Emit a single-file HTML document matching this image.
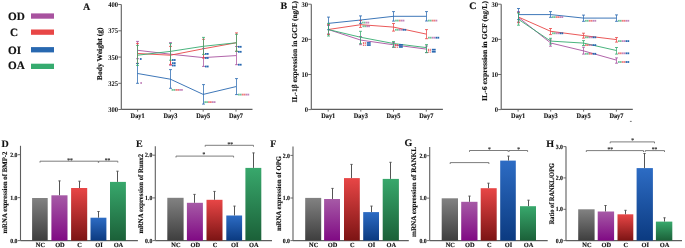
<!DOCTYPE html>
<html><head><meta charset="utf-8"><style>
html,body{margin:0;padding:0;background:#fff;}
body{width:685px;height:248px;overflow:hidden;}
svg{display:block;will-change:transform;}
text{font-family:"Liberation Serif",serif;font-weight:bold;stroke-width:0.15px;text-rendering:geometricPrecision;}
</style></head><body>
<svg width="685" height="248" viewBox="0 0 685 248">
<defs><linearGradient id="gNC" x1="0" y1="0" x2="0" y2="1"><stop offset="0" stop-color="#828282"/><stop offset="1" stop-color="#3e3e3e"/></linearGradient><linearGradient id="gOD" x1="0" y1="0" x2="0" y2="1"><stop offset="0" stop-color="#a65aa6"/><stop offset="1" stop-color="#800a84"/></linearGradient><linearGradient id="gC" x1="0" y1="0" x2="0" y2="1"><stop offset="0" stop-color="#e84646"/><stop offset="1" stop-color="#7c1414"/></linearGradient><linearGradient id="gOI" x1="0" y1="0" x2="0" y2="1"><stop offset="0" stop-color="#2d6cc4"/><stop offset="1" stop-color="#0b3a80"/></linearGradient><linearGradient id="gOA" x1="0" y1="0" x2="0" y2="1"><stop offset="0" stop-color="#38a86c"/><stop offset="1" stop-color="#1b6038"/></linearGradient></defs>
<text x="8" y="20" font-size="11.2" text-anchor="start" fill="#111" stroke="#111" >OD</text>
<rect x="31" y="13.4" width="23" height="5.3" fill="#a8529f" />
<text x="10" y="35.8" font-size="11.2" text-anchor="start" fill="#111" stroke="#111" >C</text>
<rect x="31" y="29.5" width="23" height="5.3" fill="#e84646" />
<text x="8" y="53.5" font-size="11.2" text-anchor="start" fill="#111" stroke="#111" >OI</text>
<rect x="31" y="47.1" width="23" height="5.3" fill="#2868b0" />
<text x="8" y="68.9" font-size="11.2" text-anchor="start" fill="#111" stroke="#111" >OA</text>
<rect x="31" y="63.7" width="23" height="5.3" fill="#36ab6f" />
<text x="83" y="10.3" font-size="10" text-anchor="start" fill="#111" stroke="#111" >A</text>
<line x1="121.3" y1="4.5" x2="121.3" y2="109.4" stroke="#5e5e5e" stroke-width="1.1" />
<line x1="121.3" y1="109.4" x2="252.5" y2="109.4" stroke="#5e5e5e" stroke-width="1.1" />
<line x1="118.3" y1="4.5" x2="121.3" y2="4.5" stroke="#5e5e5e" stroke-width="0.9" />
<text x="118.1" y="6.9" font-size="7.2" text-anchor="end" fill="#111" stroke="#111" textLength="9.90" lengthAdjust="spacingAndGlyphs" style="stroke-width:0">400</text>
<line x1="118.3" y1="30.8" x2="121.3" y2="30.8" stroke="#5e5e5e" stroke-width="0.9" />
<text x="118.1" y="33.2" font-size="7.2" text-anchor="end" fill="#111" stroke="#111" textLength="9.90" lengthAdjust="spacingAndGlyphs" style="stroke-width:0">375</text>
<line x1="118.3" y1="57.1" x2="121.3" y2="57.1" stroke="#5e5e5e" stroke-width="0.9" />
<text x="118.1" y="59.5" font-size="7.2" text-anchor="end" fill="#111" stroke="#111" textLength="9.90" lengthAdjust="spacingAndGlyphs" style="stroke-width:0">350</text>
<line x1="118.3" y1="83.3" x2="121.3" y2="83.3" stroke="#5e5e5e" stroke-width="0.9" />
<text x="118.1" y="85.7" font-size="7.2" text-anchor="end" fill="#111" stroke="#111" textLength="9.90" lengthAdjust="spacingAndGlyphs" style="stroke-width:0">325</text>
<line x1="118.3" y1="109.5" x2="121.3" y2="109.5" stroke="#5e5e5e" stroke-width="0.9" />
<text x="118.1" y="111.9" font-size="7.2" text-anchor="end" fill="#111" stroke="#111" textLength="9.90" lengthAdjust="spacingAndGlyphs" style="stroke-width:0">300</text>
<line x1="137.6" y1="109.4" x2="137.6" y2="111.6" stroke="#5e5e5e" stroke-width="0.9" />
<text x="137.6" y="118.0" font-size="7.0" text-anchor="middle" fill="#111" stroke="#111" textLength="14.00" lengthAdjust="spacingAndGlyphs" >Day1</text>
<line x1="170.4" y1="109.4" x2="170.4" y2="111.6" stroke="#5e5e5e" stroke-width="0.9" />
<text x="170.4" y="118.0" font-size="7.0" text-anchor="middle" fill="#111" stroke="#111" textLength="14.00" lengthAdjust="spacingAndGlyphs" >Day3</text>
<line x1="203.2" y1="109.4" x2="203.2" y2="111.6" stroke="#5e5e5e" stroke-width="0.9" />
<text x="203.2" y="118.0" font-size="7.0" text-anchor="middle" fill="#111" stroke="#111" textLength="14.00" lengthAdjust="spacingAndGlyphs" >Day5</text>
<line x1="236.0" y1="109.4" x2="236.0" y2="111.6" stroke="#5e5e5e" stroke-width="0.9" />
<text x="236.0" y="118.0" font-size="7.0" text-anchor="middle" fill="#111" stroke="#111" textLength="14.00" lengthAdjust="spacingAndGlyphs" >Day7</text>
<text transform="translate(102.04,53.80) rotate(-90)" x="0" y="0" font-size="7.4" text-anchor="middle" textLength="52.8" lengthAdjust="spacingAndGlyphs" fill="#111" stroke="#111">Body Weight (g)</text>
<polyline points="137.6,50.3 170.4,54.2 203.2,57.6 236.0,55.6" fill="none" stroke="#a8529f" stroke-width="0.9" stroke-linejoin="round"/>
<polyline points="137.6,53.5 170.4,55.2 203.2,48.8 236.0,42.8" fill="none" stroke="#e84646" stroke-width="0.9" stroke-linejoin="round"/>
<polyline points="137.6,55.2 170.4,51.4 203.2,46.3 236.0,42.8" fill="none" stroke="#36ab6f" stroke-width="0.9" stroke-linejoin="round"/>
<polyline points="137.6,73.5 170.4,79.2 203.2,94.4 236.0,86.6" fill="none" stroke="#2868b0" stroke-width="0.9" stroke-linejoin="round"/>
<line x1="137.5" y1="41.4" x2="137.5" y2="58.7" stroke="#a8529f" stroke-width="0.75" />
<line x1="136.0" y1="41.4" x2="139.0" y2="41.4" stroke="#a8529f" stroke-width="0.8" />
<line x1="136.0" y1="58.7" x2="139.0" y2="58.7" stroke="#a8529f" stroke-width="0.8" />
<line x1="170.5" y1="42.6" x2="170.5" y2="65.2" stroke="#a8529f" stroke-width="0.75" />
<line x1="169.0" y1="42.6" x2="172.0" y2="42.6" stroke="#a8529f" stroke-width="0.8" />
<line x1="169.0" y1="65.2" x2="172.0" y2="65.2" stroke="#a8529f" stroke-width="0.8" />
<line x1="203.5" y1="48.4" x2="203.5" y2="66.4" stroke="#a8529f" stroke-width="0.75" />
<line x1="202.0" y1="48.4" x2="205.0" y2="48.4" stroke="#a8529f" stroke-width="0.8" />
<line x1="202.0" y1="66.4" x2="205.0" y2="66.4" stroke="#a8529f" stroke-width="0.8" />
<line x1="236.5" y1="46.5" x2="236.5" y2="64.7" stroke="#a8529f" stroke-width="0.75" />
<line x1="235.0" y1="46.5" x2="238.0" y2="46.5" stroke="#a8529f" stroke-width="0.8" />
<line x1="235.0" y1="64.7" x2="238.0" y2="64.7" stroke="#a8529f" stroke-width="0.8" />
<line x1="137.5" y1="43.4" x2="137.5" y2="63.3" stroke="#e84646" stroke-width="0.75" />
<line x1="136.0" y1="43.4" x2="139.0" y2="43.4" stroke="#e84646" stroke-width="0.8" />
<line x1="136.0" y1="63.3" x2="139.0" y2="63.3" stroke="#e84646" stroke-width="0.8" />
<line x1="170.5" y1="46.4" x2="170.5" y2="64.4" stroke="#e84646" stroke-width="0.75" />
<line x1="169.0" y1="46.4" x2="172.0" y2="46.4" stroke="#e84646" stroke-width="0.8" />
<line x1="169.0" y1="64.4" x2="172.0" y2="64.4" stroke="#e84646" stroke-width="0.8" />
<line x1="203.5" y1="39.3" x2="203.5" y2="58.1" stroke="#e84646" stroke-width="0.75" />
<line x1="202.0" y1="39.3" x2="205.0" y2="39.3" stroke="#e84646" stroke-width="0.8" />
<line x1="202.0" y1="58.1" x2="205.0" y2="58.1" stroke="#e84646" stroke-width="0.8" />
<line x1="236.5" y1="32.9" x2="236.5" y2="51.3" stroke="#e84646" stroke-width="0.75" />
<line x1="235.0" y1="32.9" x2="238.0" y2="32.9" stroke="#e84646" stroke-width="0.8" />
<line x1="235.0" y1="51.3" x2="238.0" y2="51.3" stroke="#e84646" stroke-width="0.8" />
<line x1="137.5" y1="63.5" x2="137.5" y2="83.3" stroke="#2868b0" stroke-width="0.75" />
<line x1="136.0" y1="63.5" x2="139.0" y2="63.5" stroke="#2868b0" stroke-width="0.8" />
<line x1="136.0" y1="83.3" x2="139.0" y2="83.3" stroke="#2868b0" stroke-width="0.8" />
<line x1="170.5" y1="69.6" x2="170.5" y2="88.3" stroke="#2868b0" stroke-width="0.75" />
<line x1="169.0" y1="69.6" x2="172.0" y2="69.6" stroke="#2868b0" stroke-width="0.8" />
<line x1="169.0" y1="88.3" x2="172.0" y2="88.3" stroke="#2868b0" stroke-width="0.8" />
<line x1="203.5" y1="84.6" x2="203.5" y2="104.1" stroke="#2868b0" stroke-width="0.75" />
<line x1="202.0" y1="84.6" x2="205.0" y2="84.6" stroke="#2868b0" stroke-width="0.8" />
<line x1="202.0" y1="104.1" x2="205.0" y2="104.1" stroke="#2868b0" stroke-width="0.8" />
<line x1="236.5" y1="78.6" x2="236.5" y2="94.6" stroke="#2868b0" stroke-width="0.75" />
<line x1="235.0" y1="78.6" x2="238.0" y2="78.6" stroke="#2868b0" stroke-width="0.8" />
<line x1="235.0" y1="94.6" x2="238.0" y2="94.6" stroke="#2868b0" stroke-width="0.8" />
<line x1="137.5" y1="45.4" x2="137.5" y2="65.4" stroke="#36ab6f" stroke-width="0.75" />
<line x1="136.0" y1="45.4" x2="139.0" y2="45.4" stroke="#36ab6f" stroke-width="0.8" />
<line x1="136.0" y1="65.4" x2="139.0" y2="65.4" stroke="#36ab6f" stroke-width="0.8" />
<line x1="170.5" y1="43.6" x2="170.5" y2="60.2" stroke="#36ab6f" stroke-width="0.75" />
<line x1="169.0" y1="43.6" x2="172.0" y2="43.6" stroke="#36ab6f" stroke-width="0.8" />
<line x1="169.0" y1="60.2" x2="172.0" y2="60.2" stroke="#36ab6f" stroke-width="0.8" />
<line x1="203.5" y1="37.4" x2="203.5" y2="54.4" stroke="#36ab6f" stroke-width="0.75" />
<line x1="202.0" y1="37.4" x2="205.0" y2="37.4" stroke="#36ab6f" stroke-width="0.8" />
<line x1="202.0" y1="54.4" x2="205.0" y2="54.4" stroke="#36ab6f" stroke-width="0.8" />
<line x1="236.5" y1="34.3" x2="236.5" y2="51.3" stroke="#36ab6f" stroke-width="0.75" />
<line x1="235.0" y1="34.3" x2="238.0" y2="34.3" stroke="#36ab6f" stroke-width="0.8" />
<line x1="235.0" y1="51.3" x2="238.0" y2="51.3" stroke="#36ab6f" stroke-width="0.8" />
<rect x="139.9" y="58.1" width="1.7" height="1.8" fill="#2868b0" opacity="1"/>
<rect x="140.3" y="82.1" width="1.7" height="1.8" fill="#a8529f" opacity="0.7"/>
<rect x="172" y="59.1" width="1.7" height="1.8" fill="#2868b0" opacity="1"/>
<rect x="173.9" y="59.1" width="1.7" height="1.8" fill="#2868b0" opacity="1"/>
<rect x="172" y="62.2" width="1.7" height="1.8" fill="#2868b0" opacity="1"/>
<rect x="173.9" y="62.2" width="1.7" height="1.8" fill="#2868b0" opacity="1"/>
<rect x="172" y="64.6" width="1.7" height="1.8" fill="#2868b0" opacity="1"/>
<rect x="173.9" y="64.6" width="1.7" height="1.8" fill="#2868b0" opacity="1"/>
<rect x="171.6" y="89.0" width="1.7" height="1.8" fill="#36ab6f" opacity="0.7"/>
<rect x="173.5" y="89.0" width="1.7" height="1.8" fill="#36ab6f" opacity="0.7"/>
<rect x="175.4" y="89.0" width="1.7" height="1.8" fill="#e84646" opacity="0.7"/>
<rect x="177.3" y="89.0" width="1.7" height="1.8" fill="#e84646" opacity="0.7"/>
<rect x="179.20000000000002" y="89.0" width="1.7" height="1.8" fill="#a8529f" opacity="0.7"/>
<rect x="181.10000000000002" y="89.0" width="1.7" height="1.8" fill="#a8529f" opacity="0.7"/>
<rect x="205" y="53.0" width="1.7" height="1.8" fill="#2868b0" opacity="1"/>
<rect x="206.9" y="53.0" width="1.7" height="1.8" fill="#2868b0" opacity="1"/>
<rect x="205" y="57.1" width="1.7" height="1.8" fill="#2868b0" opacity="1"/>
<rect x="206.9" y="57.1" width="1.7" height="1.8" fill="#2868b0" opacity="1"/>
<rect x="205" y="65.6" width="1.7" height="1.8" fill="#2868b0" opacity="1"/>
<rect x="206.9" y="65.6" width="1.7" height="1.8" fill="#2868b0" opacity="1"/>
<rect x="204.3" y="101.19999999999999" width="1.7" height="1.8" fill="#36ab6f" opacity="0.7"/>
<rect x="206.20000000000002" y="101.19999999999999" width="1.7" height="1.8" fill="#36ab6f" opacity="0.7"/>
<rect x="208.10000000000002" y="101.19999999999999" width="1.7" height="1.8" fill="#e84646" opacity="0.7"/>
<rect x="210.00000000000003" y="101.19999999999999" width="1.7" height="1.8" fill="#e84646" opacity="0.7"/>
<rect x="211.90000000000003" y="101.19999999999999" width="1.7" height="1.8" fill="#a8529f" opacity="0.7"/>
<rect x="213.80000000000004" y="101.19999999999999" width="1.7" height="1.8" fill="#a8529f" opacity="0.7"/>
<rect x="238" y="45.9" width="1.7" height="1.8" fill="#2868b0" opacity="1"/>
<rect x="239.9" y="45.9" width="1.7" height="1.8" fill="#2868b0" opacity="1"/>
<rect x="238" y="50.9" width="1.7" height="1.8" fill="#2868b0" opacity="1"/>
<rect x="239.9" y="50.9" width="1.7" height="1.8" fill="#2868b0" opacity="1"/>
<rect x="238" y="63.800000000000004" width="1.7" height="1.8" fill="#2868b0" opacity="1"/>
<rect x="239.9" y="63.800000000000004" width="1.7" height="1.8" fill="#2868b0" opacity="1"/>
<rect x="238" y="93.69999999999999" width="1.7" height="1.8" fill="#36ab6f" opacity="0.7"/>
<rect x="239.9" y="93.69999999999999" width="1.7" height="1.8" fill="#36ab6f" opacity="0.7"/>
<rect x="241.8" y="93.69999999999999" width="1.7" height="1.8" fill="#e84646" opacity="0.7"/>
<rect x="243.70000000000002" y="93.69999999999999" width="1.7" height="1.8" fill="#e84646" opacity="0.7"/>
<rect x="245.60000000000002" y="93.69999999999999" width="1.7" height="1.8" fill="#a8529f" opacity="0.7"/>
<rect x="247.50000000000003" y="93.69999999999999" width="1.7" height="1.8" fill="#a8529f" opacity="0.7"/>
<text x="280.5" y="8.6" font-size="10" text-anchor="start" fill="#111" stroke="#111" >B</text>
<line x1="311.3" y1="4.2" x2="311.3" y2="109.4" stroke="#5e5e5e" stroke-width="1.1" />
<line x1="311.3" y1="109.4" x2="442.9" y2="109.4" stroke="#5e5e5e" stroke-width="1.1" />
<line x1="308.3" y1="4.2" x2="311.3" y2="4.2" stroke="#5e5e5e" stroke-width="0.9" />
<text x="308.1" y="6.6" font-size="7.2" text-anchor="end" fill="#111" stroke="#111" textLength="6.60" lengthAdjust="spacingAndGlyphs" style="stroke-width:0">30</text>
<line x1="308.3" y1="39.4" x2="311.3" y2="39.4" stroke="#5e5e5e" stroke-width="0.9" />
<text x="308.1" y="41.8" font-size="7.2" text-anchor="end" fill="#111" stroke="#111" textLength="6.60" lengthAdjust="spacingAndGlyphs" style="stroke-width:0">20</text>
<line x1="308.3" y1="74.5" x2="311.3" y2="74.5" stroke="#5e5e5e" stroke-width="0.9" />
<text x="308.1" y="76.9" font-size="7.2" text-anchor="end" fill="#111" stroke="#111" textLength="6.60" lengthAdjust="spacingAndGlyphs" style="stroke-width:0">10</text>
<line x1="308.3" y1="109.6" x2="311.3" y2="109.6" stroke="#5e5e5e" stroke-width="0.9" />
<text x="308.1" y="112.0" font-size="7.2" text-anchor="end" fill="#111" stroke="#111" textLength="3.30" lengthAdjust="spacingAndGlyphs" style="stroke-width:0">0</text>
<line x1="328.2" y1="109.4" x2="328.2" y2="111.6" stroke="#5e5e5e" stroke-width="0.9" />
<text x="328.2" y="118.0" font-size="7.0" text-anchor="middle" fill="#111" stroke="#111" textLength="14.00" lengthAdjust="spacingAndGlyphs" >Day1</text>
<line x1="360.8" y1="109.4" x2="360.8" y2="111.6" stroke="#5e5e5e" stroke-width="0.9" />
<text x="360.8" y="118.0" font-size="7.0" text-anchor="middle" fill="#111" stroke="#111" textLength="14.00" lengthAdjust="spacingAndGlyphs" >Day3</text>
<line x1="393.5" y1="109.4" x2="393.5" y2="111.6" stroke="#5e5e5e" stroke-width="0.9" />
<text x="393.5" y="118.0" font-size="7.0" text-anchor="middle" fill="#111" stroke="#111" textLength="14.00" lengthAdjust="spacingAndGlyphs" >Day5</text>
<line x1="426.3" y1="109.4" x2="426.3" y2="111.6" stroke="#5e5e5e" stroke-width="0.9" />
<text x="426.3" y="118.0" font-size="7.0" text-anchor="middle" fill="#111" stroke="#111" textLength="14.00" lengthAdjust="spacingAndGlyphs" >Day7</text>
<text transform="translate(297.44,51.80) rotate(-90)" x="0" y="0" font-size="7.4" text-anchor="middle" textLength="101.6" lengthAdjust="spacingAndGlyphs" fill="#111" stroke="#111">IL-1β expression in GCF (ng/L)</text>
<polyline points="328.2,29.5 360.8,40.1 393.5,44.8 426.3,49.1" fill="none" stroke="#a8529f" stroke-width="0.9" stroke-linejoin="round"/>
<polyline points="328.2,29.5 360.8,24.7 393.5,27.1 426.3,34.1" fill="none" stroke="#e84646" stroke-width="0.9" stroke-linejoin="round"/>
<polyline points="328.2,29.5 360.8,37.3 393.5,43.5 426.3,47.6" fill="none" stroke="#36ab6f" stroke-width="0.9" stroke-linejoin="round"/>
<polyline points="328.2,23.4 360.8,20.0 393.5,16.3 426.3,16.3" fill="none" stroke="#2868b0" stroke-width="0.9" stroke-linejoin="round"/>
<line x1="328.5" y1="25.5" x2="328.5" y2="33.9" stroke="#a8529f" stroke-width="0.75" />
<line x1="327.0" y1="25.5" x2="330.0" y2="25.5" stroke="#a8529f" stroke-width="0.8" />
<line x1="327.0" y1="33.9" x2="330.0" y2="33.9" stroke="#a8529f" stroke-width="0.8" />
<line x1="360.5" y1="36.5" x2="360.5" y2="44.7" stroke="#a8529f" stroke-width="0.75" />
<line x1="359.0" y1="36.5" x2="362.0" y2="36.5" stroke="#a8529f" stroke-width="0.8" />
<line x1="359.0" y1="44.7" x2="362.0" y2="44.7" stroke="#a8529f" stroke-width="0.8" />
<line x1="393.5" y1="42.5" x2="393.5" y2="47.3" stroke="#a8529f" stroke-width="0.75" />
<line x1="392.0" y1="42.5" x2="395.0" y2="42.5" stroke="#a8529f" stroke-width="0.8" />
<line x1="392.0" y1="47.3" x2="395.0" y2="47.3" stroke="#a8529f" stroke-width="0.8" />
<line x1="426.5" y1="46" x2="426.5" y2="52.6" stroke="#a8529f" stroke-width="0.75" />
<line x1="425.0" y1="46" x2="428.0" y2="46" stroke="#a8529f" stroke-width="0.8" />
<line x1="425.0" y1="52.6" x2="428.0" y2="52.6" stroke="#a8529f" stroke-width="0.8" />
<line x1="328.5" y1="24.5" x2="328.5" y2="34.5" stroke="#e84646" stroke-width="0.75" />
<line x1="327.0" y1="24.5" x2="330.0" y2="24.5" stroke="#e84646" stroke-width="0.8" />
<line x1="327.0" y1="34.5" x2="330.0" y2="34.5" stroke="#e84646" stroke-width="0.8" />
<line x1="360.5" y1="20.5" x2="360.5" y2="27.4" stroke="#e84646" stroke-width="0.75" />
<line x1="359.0" y1="20.5" x2="362.0" y2="20.5" stroke="#e84646" stroke-width="0.8" />
<line x1="359.0" y1="27.4" x2="362.0" y2="27.4" stroke="#e84646" stroke-width="0.8" />
<line x1="393.5" y1="23.5" x2="393.5" y2="31.1" stroke="#e84646" stroke-width="0.75" />
<line x1="392.0" y1="23.5" x2="395.0" y2="23.5" stroke="#e84646" stroke-width="0.8" />
<line x1="392.0" y1="31.1" x2="395.0" y2="31.1" stroke="#e84646" stroke-width="0.8" />
<line x1="426.5" y1="29.6" x2="426.5" y2="38.7" stroke="#e84646" stroke-width="0.75" />
<line x1="425.0" y1="29.6" x2="428.0" y2="29.6" stroke="#e84646" stroke-width="0.8" />
<line x1="425.0" y1="38.7" x2="428.0" y2="38.7" stroke="#e84646" stroke-width="0.8" />
<line x1="328.5" y1="17.1" x2="328.5" y2="29.7" stroke="#2868b0" stroke-width="0.75" />
<line x1="327.0" y1="17.1" x2="330.0" y2="17.1" stroke="#2868b0" stroke-width="0.8" />
<line x1="327.0" y1="29.7" x2="330.0" y2="29.7" stroke="#2868b0" stroke-width="0.8" />
<line x1="360.5" y1="15.9" x2="360.5" y2="23.4" stroke="#2868b0" stroke-width="0.75" />
<line x1="359.0" y1="15.9" x2="362.0" y2="15.9" stroke="#2868b0" stroke-width="0.8" />
<line x1="359.0" y1="23.4" x2="362.0" y2="23.4" stroke="#2868b0" stroke-width="0.8" />
<line x1="393.5" y1="11.6" x2="393.5" y2="21.1" stroke="#2868b0" stroke-width="0.75" />
<line x1="392.0" y1="11.6" x2="395.0" y2="11.6" stroke="#2868b0" stroke-width="0.8" />
<line x1="392.0" y1="21.1" x2="395.0" y2="21.1" stroke="#2868b0" stroke-width="0.8" />
<line x1="426.5" y1="11.6" x2="426.5" y2="21.0" stroke="#2868b0" stroke-width="0.75" />
<line x1="425.0" y1="11.6" x2="428.0" y2="11.6" stroke="#2868b0" stroke-width="0.8" />
<line x1="425.0" y1="21.0" x2="428.0" y2="21.0" stroke="#2868b0" stroke-width="0.8" />
<line x1="328.5" y1="23.4" x2="328.5" y2="36.0" stroke="#36ab6f" stroke-width="0.75" />
<line x1="327.0" y1="23.4" x2="330.0" y2="23.4" stroke="#36ab6f" stroke-width="0.8" />
<line x1="327.0" y1="36.0" x2="330.0" y2="36.0" stroke="#36ab6f" stroke-width="0.8" />
<line x1="360.5" y1="31.3" x2="360.5" y2="43.7" stroke="#36ab6f" stroke-width="0.75" />
<line x1="359.0" y1="31.3" x2="362.0" y2="31.3" stroke="#36ab6f" stroke-width="0.8" />
<line x1="359.0" y1="43.7" x2="362.0" y2="43.7" stroke="#36ab6f" stroke-width="0.8" />
<line x1="393.5" y1="41.5" x2="393.5" y2="47.1" stroke="#36ab6f" stroke-width="0.75" />
<line x1="392.0" y1="41.5" x2="395.0" y2="41.5" stroke="#36ab6f" stroke-width="0.8" />
<line x1="392.0" y1="47.1" x2="395.0" y2="47.1" stroke="#36ab6f" stroke-width="0.8" />
<line x1="426.5" y1="44.6" x2="426.5" y2="52.6" stroke="#36ab6f" stroke-width="0.75" />
<line x1="425.0" y1="44.6" x2="428.0" y2="44.6" stroke="#36ab6f" stroke-width="0.8" />
<line x1="425.0" y1="52.6" x2="428.0" y2="52.6" stroke="#36ab6f" stroke-width="0.8" />
<rect x="361.8" y="21.700000000000003" width="1.7" height="1.8" fill="#36ab6f" opacity="0.7"/>
<rect x="363.7" y="21.700000000000003" width="1.7" height="1.8" fill="#36ab6f" opacity="0.7"/>
<rect x="365.59999999999997" y="21.700000000000003" width="1.7" height="1.8" fill="#a8529f" opacity="0.7"/>
<rect x="367.49999999999994" y="21.700000000000003" width="1.7" height="1.8" fill="#a8529f" opacity="0.7"/>
<rect x="362.5" y="25.400000000000002" width="1.7" height="1.8" fill="#36ab6f" opacity="0.7"/>
<rect x="364.4" y="25.400000000000002" width="1.7" height="1.8" fill="#36ab6f" opacity="0.7"/>
<rect x="366.29999999999995" y="25.400000000000002" width="1.7" height="1.8" fill="#a8529f" opacity="0.7"/>
<rect x="368.19999999999993" y="25.400000000000002" width="1.7" height="1.8" fill="#a8529f" opacity="0.7"/>
<rect x="362.9" y="42.1" width="1.1" height="2.2" fill="#e84646" opacity="0.8"/>
<rect x="362.9" y="44.8" width="1.1" height="1.2" fill="#e84646" opacity="0.8"/>
<rect x="364.7" y="42.1" width="1.1" height="2.2" fill="#e84646" opacity="0.8"/>
<rect x="364.7" y="44.8" width="1.1" height="1.2" fill="#e84646" opacity="0.8"/>
<rect x="366.79999999999995" y="42.1" width="3.9" height="1.7" fill="#2868b0" />
<rect x="366.79999999999995" y="44.2" width="3.9" height="1.7" fill="#2868b0" />
<rect x="395.1" y="19.700000000000003" width="1.7" height="1.8" fill="#36ab6f" opacity="0.7"/>
<rect x="397.0" y="19.700000000000003" width="1.7" height="1.8" fill="#36ab6f" opacity="0.7"/>
<rect x="398.9" y="19.700000000000003" width="1.7" height="1.8" fill="#e84646" opacity="0.7"/>
<rect x="400.79999999999995" y="19.700000000000003" width="1.7" height="1.8" fill="#a8529f" opacity="0.7"/>
<rect x="402.69999999999993" y="19.700000000000003" width="1.7" height="1.8" fill="#a8529f" opacity="0.7"/>
<rect x="395" y="28.900000000000002" width="1.7" height="1.8" fill="#36ab6f" opacity="0.7"/>
<rect x="396.9" y="28.900000000000002" width="1.7" height="1.8" fill="#36ab6f" opacity="0.7"/>
<rect x="398.79999999999995" y="28.900000000000002" width="1.7" height="1.8" fill="#a8529f" opacity="0.7"/>
<rect x="400.69999999999993" y="28.900000000000002" width="1.7" height="1.8" fill="#a8529f" opacity="0.7"/>
<rect x="402.5999999999999" y="28.900000000000002" width="1.7" height="1.8" fill="#2868b0" opacity="1"/>
<rect x="404.4999999999999" y="28.900000000000002" width="1.7" height="1.8" fill="#2868b0" opacity="1"/>
<rect x="395" y="44.0" width="1.1" height="2.2" fill="#e84646" opacity="0.8"/>
<rect x="395" y="46.699999999999996" width="1.1" height="1.2" fill="#e84646" opacity="0.8"/>
<rect x="396.8" y="44.0" width="1.1" height="2.2" fill="#e84646" opacity="0.8"/>
<rect x="396.8" y="46.699999999999996" width="1.1" height="1.2" fill="#e84646" opacity="0.8"/>
<rect x="398.9" y="44.0" width="3.9" height="1.7" fill="#2868b0" />
<rect x="398.9" y="46.1" width="3.9" height="1.7" fill="#2868b0" />
<rect x="428" y="19.700000000000003" width="1.7" height="1.8" fill="#36ab6f" opacity="0.7"/>
<rect x="429.9" y="19.700000000000003" width="1.7" height="1.8" fill="#36ab6f" opacity="0.7"/>
<rect x="431.79999999999995" y="19.700000000000003" width="1.7" height="1.8" fill="#e84646" opacity="0.7"/>
<rect x="433.69999999999993" y="19.700000000000003" width="1.7" height="1.8" fill="#e84646" opacity="0.7"/>
<rect x="435.5999999999999" y="19.700000000000003" width="1.7" height="1.8" fill="#a8529f" opacity="0.7"/>
<rect x="428" y="36.800000000000004" width="1.7" height="1.8" fill="#36ab6f" opacity="0.7"/>
<rect x="429.9" y="36.800000000000004" width="1.7" height="1.8" fill="#36ab6f" opacity="0.7"/>
<rect x="431.79999999999995" y="36.800000000000004" width="1.7" height="1.8" fill="#a8529f" opacity="0.7"/>
<rect x="433.69999999999993" y="36.800000000000004" width="1.7" height="1.8" fill="#a8529f" opacity="0.7"/>
<rect x="435.5999999999999" y="36.800000000000004" width="1.7" height="1.8" fill="#2868b0" opacity="1"/>
<rect x="437.4999999999999" y="36.800000000000004" width="1.7" height="1.8" fill="#2868b0" opacity="1"/>
<rect x="427.9" y="48.800000000000004" width="1.1" height="2.2" fill="#e84646" opacity="0.8"/>
<rect x="427.9" y="51.5" width="1.1" height="1.2" fill="#e84646" opacity="0.8"/>
<rect x="429.7" y="48.800000000000004" width="1.1" height="2.2" fill="#e84646" opacity="0.8"/>
<rect x="429.7" y="51.5" width="1.1" height="1.2" fill="#e84646" opacity="0.8"/>
<rect x="431.79999999999995" y="48.800000000000004" width="3.9" height="1.7" fill="#2868b0" />
<rect x="431.79999999999995" y="50.900000000000006" width="3.9" height="1.7" fill="#2868b0" />
<text x="469.3" y="9.1" font-size="10" text-anchor="start" fill="#111" stroke="#111" >C</text>
<line x1="501.2" y1="4.2" x2="501.2" y2="109.4" stroke="#5e5e5e" stroke-width="1.1" />
<line x1="501.2" y1="109.4" x2="632.8" y2="109.4" stroke="#5e5e5e" stroke-width="1.1" />
<line x1="498.2" y1="4.2" x2="501.2" y2="4.2" stroke="#5e5e5e" stroke-width="0.9" />
<text x="498.0" y="6.6" font-size="7.2" text-anchor="end" fill="#111" stroke="#111" textLength="6.60" lengthAdjust="spacingAndGlyphs" style="stroke-width:0">30</text>
<line x1="498.2" y1="39.4" x2="501.2" y2="39.4" stroke="#5e5e5e" stroke-width="0.9" />
<text x="498.0" y="41.8" font-size="7.2" text-anchor="end" fill="#111" stroke="#111" textLength="6.60" lengthAdjust="spacingAndGlyphs" style="stroke-width:0">20</text>
<line x1="498.2" y1="74.5" x2="501.2" y2="74.5" stroke="#5e5e5e" stroke-width="0.9" />
<text x="498.0" y="76.9" font-size="7.2" text-anchor="end" fill="#111" stroke="#111" textLength="6.60" lengthAdjust="spacingAndGlyphs" style="stroke-width:0">10</text>
<line x1="498.2" y1="109.6" x2="501.2" y2="109.6" stroke="#5e5e5e" stroke-width="0.9" />
<text x="498.0" y="112.0" font-size="7.2" text-anchor="end" fill="#111" stroke="#111" textLength="3.30" lengthAdjust="spacingAndGlyphs" style="stroke-width:0">0</text>
<line x1="518.1" y1="109.4" x2="518.1" y2="111.6" stroke="#5e5e5e" stroke-width="0.9" />
<text x="518.1" y="118.0" font-size="7.0" text-anchor="middle" fill="#111" stroke="#111" textLength="14.00" lengthAdjust="spacingAndGlyphs" >Day1</text>
<line x1="550.7" y1="109.4" x2="550.7" y2="111.6" stroke="#5e5e5e" stroke-width="0.9" />
<text x="550.7" y="118.0" font-size="7.0" text-anchor="middle" fill="#111" stroke="#111" textLength="14.00" lengthAdjust="spacingAndGlyphs" >Day3</text>
<line x1="583.6" y1="109.4" x2="583.6" y2="111.6" stroke="#5e5e5e" stroke-width="0.9" />
<text x="583.6" y="118.0" font-size="7.0" text-anchor="middle" fill="#111" stroke="#111" textLength="14.00" lengthAdjust="spacingAndGlyphs" >Day5</text>
<line x1="616.4" y1="109.4" x2="616.4" y2="111.6" stroke="#5e5e5e" stroke-width="0.9" />
<text x="616.4" y="118.0" font-size="7.0" text-anchor="middle" fill="#111" stroke="#111" textLength="14.00" lengthAdjust="spacingAndGlyphs" >Day7</text>
<text transform="translate(487.44,50.95) rotate(-90)" x="0" y="0" font-size="7.4" text-anchor="middle" textLength="99.9" lengthAdjust="spacingAndGlyphs" fill="#111" stroke="#111">IL-6 expression in GCF (ng/L)</text>
<polyline points="518.1,17.1 550.7,43.0 583.6,50.9 616.4,60.1" fill="none" stroke="#a8529f" stroke-width="0.9" stroke-linejoin="round"/>
<polyline points="518.1,16.9 550.7,31.3 583.6,35.6 616.4,39.6" fill="none" stroke="#e84646" stroke-width="0.9" stroke-linejoin="round"/>
<polyline points="518.1,19.1 550.7,41.1 583.6,43.1 616.4,50.5" fill="none" stroke="#36ab6f" stroke-width="0.9" stroke-linejoin="round"/>
<polyline points="518.1,14.6 550.7,14.6 583.6,18.1 616.4,18.1" fill="none" stroke="#2868b0" stroke-width="0.9" stroke-linejoin="round"/>
<line x1="518.5" y1="11.6" x2="518.5" y2="22" stroke="#a8529f" stroke-width="0.75" />
<line x1="517.0" y1="11.6" x2="520.0" y2="11.6" stroke="#a8529f" stroke-width="0.8" />
<line x1="517.0" y1="22" x2="520.0" y2="22" stroke="#a8529f" stroke-width="0.8" />
<line x1="550.5" y1="40" x2="550.5" y2="46.2" stroke="#a8529f" stroke-width="0.75" />
<line x1="549.0" y1="40" x2="552.0" y2="40" stroke="#a8529f" stroke-width="0.8" />
<line x1="549.0" y1="46.2" x2="552.0" y2="46.2" stroke="#a8529f" stroke-width="0.8" />
<line x1="583.5" y1="47.2" x2="583.5" y2="54.1" stroke="#a8529f" stroke-width="0.75" />
<line x1="582.0" y1="47.2" x2="585.0" y2="47.2" stroke="#a8529f" stroke-width="0.8" />
<line x1="582.0" y1="54.1" x2="585.0" y2="54.1" stroke="#a8529f" stroke-width="0.8" />
<line x1="616.5" y1="57.9" x2="616.5" y2="63.2" stroke="#a8529f" stroke-width="0.75" />
<line x1="615.0" y1="57.9" x2="618.0" y2="57.9" stroke="#a8529f" stroke-width="0.8" />
<line x1="615.0" y1="63.2" x2="618.0" y2="63.2" stroke="#a8529f" stroke-width="0.8" />
<line x1="518.5" y1="12.6" x2="518.5" y2="22.7" stroke="#e84646" stroke-width="0.75" />
<line x1="517.0" y1="12.6" x2="520.0" y2="12.6" stroke="#e84646" stroke-width="0.8" />
<line x1="517.0" y1="22.7" x2="520.0" y2="22.7" stroke="#e84646" stroke-width="0.8" />
<line x1="550.5" y1="28.5" x2="550.5" y2="34.6" stroke="#e84646" stroke-width="0.75" />
<line x1="549.0" y1="28.5" x2="552.0" y2="28.5" stroke="#e84646" stroke-width="0.8" />
<line x1="549.0" y1="34.6" x2="552.0" y2="34.6" stroke="#e84646" stroke-width="0.8" />
<line x1="583.5" y1="33.2" x2="583.5" y2="38.1" stroke="#e84646" stroke-width="0.75" />
<line x1="582.0" y1="33.2" x2="585.0" y2="33.2" stroke="#e84646" stroke-width="0.8" />
<line x1="582.0" y1="38.1" x2="585.0" y2="38.1" stroke="#e84646" stroke-width="0.8" />
<line x1="616.5" y1="37.6" x2="616.5" y2="42.1" stroke="#e84646" stroke-width="0.75" />
<line x1="615.0" y1="37.6" x2="618.0" y2="37.6" stroke="#e84646" stroke-width="0.8" />
<line x1="615.0" y1="42.1" x2="618.0" y2="42.1" stroke="#e84646" stroke-width="0.8" />
<line x1="518.5" y1="8.5" x2="518.5" y2="19.6" stroke="#2868b0" stroke-width="0.75" />
<line x1="517.0" y1="8.5" x2="520.0" y2="8.5" stroke="#2868b0" stroke-width="0.8" />
<line x1="517.0" y1="19.6" x2="520.0" y2="19.6" stroke="#2868b0" stroke-width="0.8" />
<line x1="550.5" y1="11.6" x2="550.5" y2="17.3" stroke="#2868b0" stroke-width="0.75" />
<line x1="549.0" y1="11.6" x2="552.0" y2="11.6" stroke="#2868b0" stroke-width="0.8" />
<line x1="549.0" y1="17.3" x2="552.0" y2="17.3" stroke="#2868b0" stroke-width="0.8" />
<line x1="583.5" y1="15.1" x2="583.5" y2="21.3" stroke="#2868b0" stroke-width="0.75" />
<line x1="582.0" y1="15.1" x2="585.0" y2="15.1" stroke="#2868b0" stroke-width="0.8" />
<line x1="582.0" y1="21.3" x2="585.0" y2="21.3" stroke="#2868b0" stroke-width="0.8" />
<line x1="616.5" y1="14.9" x2="616.5" y2="21.3" stroke="#2868b0" stroke-width="0.75" />
<line x1="615.0" y1="14.9" x2="618.0" y2="14.9" stroke="#2868b0" stroke-width="0.8" />
<line x1="615.0" y1="21.3" x2="618.0" y2="21.3" stroke="#2868b0" stroke-width="0.8" />
<line x1="518.5" y1="13" x2="518.5" y2="25.2" stroke="#36ab6f" stroke-width="0.75" />
<line x1="517.0" y1="13" x2="520.0" y2="13" stroke="#36ab6f" stroke-width="0.8" />
<line x1="517.0" y1="25.2" x2="520.0" y2="25.2" stroke="#36ab6f" stroke-width="0.8" />
<line x1="550.5" y1="38.3" x2="550.5" y2="44" stroke="#36ab6f" stroke-width="0.75" />
<line x1="549.0" y1="38.3" x2="552.0" y2="38.3" stroke="#36ab6f" stroke-width="0.8" />
<line x1="549.0" y1="44" x2="552.0" y2="44" stroke="#36ab6f" stroke-width="0.8" />
<line x1="583.5" y1="40.6" x2="583.5" y2="45.5" stroke="#36ab6f" stroke-width="0.75" />
<line x1="582.0" y1="40.6" x2="585.0" y2="40.6" stroke="#36ab6f" stroke-width="0.8" />
<line x1="582.0" y1="45.5" x2="585.0" y2="45.5" stroke="#36ab6f" stroke-width="0.8" />
<line x1="616.5" y1="47.5" x2="616.5" y2="54.1" stroke="#36ab6f" stroke-width="0.75" />
<line x1="615.0" y1="47.5" x2="618.0" y2="47.5" stroke="#36ab6f" stroke-width="0.8" />
<line x1="615.0" y1="54.1" x2="618.0" y2="54.1" stroke="#36ab6f" stroke-width="0.8" />
<rect x="552" y="16.200000000000003" width="1.7" height="1.8" fill="#36ab6f" opacity="0.7"/>
<rect x="553.9" y="16.200000000000003" width="1.7" height="1.8" fill="#36ab6f" opacity="0.7"/>
<rect x="555.8" y="16.200000000000003" width="1.7" height="1.8" fill="#e84646" opacity="0.7"/>
<rect x="557.6999999999999" y="16.200000000000003" width="1.7" height="1.8" fill="#e84646" opacity="0.7"/>
<rect x="559.5999999999999" y="16.200000000000003" width="1.7" height="1.8" fill="#a8529f" opacity="0.7"/>
<rect x="561.4999999999999" y="16.200000000000003" width="1.7" height="1.8" fill="#a8529f" opacity="0.7"/>
<rect x="552" y="32.4" width="1.7" height="1.8" fill="#36ab6f" opacity="0.7"/>
<rect x="553.9" y="32.4" width="1.7" height="1.8" fill="#36ab6f" opacity="0.7"/>
<rect x="555.8" y="32.4" width="1.7" height="1.8" fill="#a8529f" opacity="0.7"/>
<rect x="557.6999999999999" y="32.4" width="1.7" height="1.8" fill="#a8529f" opacity="0.7"/>
<rect x="559.5999999999999" y="32.4" width="1.7" height="1.8" fill="#2868b0" opacity="1"/>
<rect x="561.4999999999999" y="32.4" width="1.7" height="1.8" fill="#2868b0" opacity="1"/>
<rect x="585" y="19.900000000000002" width="1.7" height="1.8" fill="#36ab6f" opacity="0.7"/>
<rect x="586.9" y="19.900000000000002" width="1.7" height="1.8" fill="#36ab6f" opacity="0.7"/>
<rect x="588.8" y="19.900000000000002" width="1.7" height="1.8" fill="#e84646" opacity="0.7"/>
<rect x="590.6999999999999" y="19.900000000000002" width="1.7" height="1.8" fill="#e84646" opacity="0.7"/>
<rect x="592.5999999999999" y="19.900000000000002" width="1.7" height="1.8" fill="#a8529f" opacity="0.7"/>
<rect x="594.4999999999999" y="19.900000000000002" width="1.7" height="1.8" fill="#a8529f" opacity="0.7"/>
<rect x="585" y="36.4" width="1.7" height="1.8" fill="#36ab6f" opacity="0.7"/>
<rect x="586.9" y="36.4" width="1.7" height="1.8" fill="#36ab6f" opacity="0.7"/>
<rect x="588.8" y="36.4" width="1.7" height="1.8" fill="#a8529f" opacity="0.7"/>
<rect x="590.6999999999999" y="36.4" width="1.7" height="1.8" fill="#a8529f" opacity="0.7"/>
<rect x="592.5999999999999" y="36.4" width="1.7" height="1.8" fill="#2868b0" opacity="1"/>
<rect x="594.4999999999999" y="36.4" width="1.7" height="1.8" fill="#2868b0" opacity="1"/>
<rect x="585" y="44.2" width="1.7" height="1.8" fill="#e84646" opacity="0.7"/>
<rect x="586.9" y="44.2" width="1.7" height="1.8" fill="#e84646" opacity="0.7"/>
<rect x="588.8" y="44.2" width="1.7" height="1.8" fill="#a8529f" opacity="0.7"/>
<rect x="590.6999999999999" y="44.2" width="1.7" height="1.8" fill="#a8529f" opacity="0.7"/>
<rect x="592.5999999999999" y="44.2" width="1.7" height="1.8" fill="#2868b0" opacity="1"/>
<rect x="594.4999999999999" y="44.2" width="1.7" height="1.8" fill="#2868b0" opacity="1"/>
<rect x="585" y="52.9" width="1.7" height="1.8" fill="#36ab6f" opacity="0.7"/>
<rect x="586.9" y="52.9" width="1.7" height="1.8" fill="#36ab6f" opacity="0.7"/>
<rect x="588.8" y="52.9" width="1.7" height="1.8" fill="#e84646" opacity="0.7"/>
<rect x="590.6999999999999" y="52.9" width="1.7" height="1.8" fill="#e84646" opacity="0.7"/>
<rect x="592.5999999999999" y="52.9" width="1.7" height="1.8" fill="#2868b0" opacity="1"/>
<rect x="594.4999999999999" y="52.9" width="1.7" height="1.8" fill="#2868b0" opacity="1"/>
<rect x="618" y="19.900000000000002" width="1.7" height="1.8" fill="#36ab6f" opacity="0.7"/>
<rect x="619.9" y="19.900000000000002" width="1.7" height="1.8" fill="#36ab6f" opacity="0.7"/>
<rect x="621.8" y="19.900000000000002" width="1.7" height="1.8" fill="#e84646" opacity="0.7"/>
<rect x="623.6999999999999" y="19.900000000000002" width="1.7" height="1.8" fill="#e84646" opacity="0.7"/>
<rect x="625.5999999999999" y="19.900000000000002" width="1.7" height="1.8" fill="#a8529f" opacity="0.7"/>
<rect x="627.4999999999999" y="19.900000000000002" width="1.7" height="1.8" fill="#a8529f" opacity="0.7"/>
<rect x="618" y="40.2" width="1.7" height="1.8" fill="#36ab6f" opacity="0.7"/>
<rect x="619.9" y="40.2" width="1.7" height="1.8" fill="#36ab6f" opacity="0.7"/>
<rect x="621.8" y="40.2" width="1.7" height="1.8" fill="#a8529f" opacity="0.7"/>
<rect x="623.6999999999999" y="40.2" width="1.7" height="1.8" fill="#a8529f" opacity="0.7"/>
<rect x="625.5999999999999" y="40.2" width="1.7" height="1.8" fill="#2868b0" opacity="1"/>
<rect x="627.4999999999999" y="40.2" width="1.7" height="1.8" fill="#2868b0" opacity="1"/>
<rect x="618" y="52.4" width="1.7" height="1.8" fill="#e84646" opacity="0.7"/>
<rect x="619.9" y="52.4" width="1.7" height="1.8" fill="#e84646" opacity="0.7"/>
<rect x="621.8" y="52.4" width="1.7" height="1.8" fill="#a8529f" opacity="0.7"/>
<rect x="623.6999999999999" y="52.4" width="1.7" height="1.8" fill="#a8529f" opacity="0.7"/>
<rect x="625.5999999999999" y="52.4" width="1.7" height="1.8" fill="#2868b0" opacity="1"/>
<rect x="627.4999999999999" y="52.4" width="1.7" height="1.8" fill="#2868b0" opacity="1"/>
<rect x="618" y="61.1" width="1.7" height="1.8" fill="#36ab6f" opacity="0.7"/>
<rect x="619.9" y="61.1" width="1.7" height="1.8" fill="#36ab6f" opacity="0.7"/>
<rect x="621.8" y="61.1" width="1.7" height="1.8" fill="#e84646" opacity="0.7"/>
<rect x="623.6999999999999" y="61.1" width="1.7" height="1.8" fill="#e84646" opacity="0.7"/>
<rect x="625.5999999999999" y="61.1" width="1.7" height="1.8" fill="#2868b0" opacity="1"/>
<rect x="627.4999999999999" y="61.1" width="1.7" height="1.8" fill="#2868b0" opacity="1"/>
<text x="1.5" y="146.9" font-size="10" text-anchor="start" fill="#111" stroke="#111" >D</text>
<line x1="20.5" y1="145.8" x2="20.5" y2="240.6" stroke="#5e5e5e" stroke-width="1.1" />
<line x1="20.5" y1="240.6" x2="137.9" y2="240.6" stroke="#5e5e5e" stroke-width="1.1" />
<line x1="17.9" y1="154.7" x2="20.5" y2="154.7" stroke="#5e5e5e" stroke-width="0.9" />
<text x="17.5" y="156.79999999999998" font-size="6.4" text-anchor="end" fill="#111" stroke="#111" textLength="7.25" lengthAdjust="spacingAndGlyphs" >2.0</text>
<line x1="17.9" y1="197.64999999999998" x2="20.5" y2="197.64999999999998" stroke="#5e5e5e" stroke-width="0.9" />
<text x="17.5" y="199.74999999999997" font-size="6.4" text-anchor="end" fill="#111" stroke="#111" textLength="7.25" lengthAdjust="spacingAndGlyphs" >1.0</text>
<line x1="17.9" y1="240.6" x2="20.5" y2="240.6" stroke="#5e5e5e" stroke-width="0.9" />
<text x="17.5" y="242.7" font-size="6.4" text-anchor="end" fill="#111" stroke="#111" textLength="7.25" lengthAdjust="spacingAndGlyphs" >0.0</text>
<text transform="translate(6.81,192.55) rotate(-90)" x="0" y="0" font-size="7.0" text-anchor="middle" textLength="82.1" lengthAdjust="spacingAndGlyphs" fill="#111" stroke="#111">mRNA expression of BMP-2</text>
<rect x="32.1" y="198.0" width="15.600000000000001" height="42.599999999999994" fill="url(#gNC)" />
<text x="40.400000000000006" y="246.5" font-size="6.4" text-anchor="middle" fill="#111" stroke="#111" >NC</text>
<rect x="51.4" y="195.3" width="16.1" height="45.29999999999998" fill="url(#gOD)" />
<line x1="59.5" y1="180.9" x2="59.5" y2="195.3" stroke="#555" stroke-width="1.0" />
<line x1="58.4" y1="180.9" x2="60.6" y2="180.9" stroke="#555" stroke-width="1.0" />
<text x="59.95" y="246.5" font-size="6.4" text-anchor="middle" fill="#111" stroke="#111" >OD</text>
<rect x="71.1" y="188.0" width="16.10000000000001" height="52.599999999999994" fill="url(#gC)" />
<line x1="79.5" y1="181.2" x2="79.5" y2="188.0" stroke="#555" stroke-width="1.0" />
<line x1="78.4" y1="181.2" x2="80.6" y2="181.2" stroke="#555" stroke-width="1.0" />
<text x="79.65" y="246.5" font-size="6.4" text-anchor="middle" fill="#111" stroke="#111" >C</text>
<rect x="90.5" y="217.7" width="15.900000000000006" height="22.900000000000006" fill="url(#gOI)" />
<line x1="98.5" y1="211.5" x2="98.5" y2="217.7" stroke="#555" stroke-width="1.0" />
<line x1="97.4" y1="211.5" x2="99.6" y2="211.5" stroke="#555" stroke-width="1.0" />
<text x="98.95" y="246.5" font-size="6.4" text-anchor="middle" fill="#111" stroke="#111" >OI</text>
<rect x="110.0" y="181.9" width="15.900000000000006" height="58.69999999999999" fill="url(#gOA)" />
<line x1="117.5" y1="171.2" x2="117.5" y2="181.9" stroke="#555" stroke-width="1.0" />
<line x1="116.4" y1="171.2" x2="118.6" y2="171.2" stroke="#555" stroke-width="1.0" />
<text x="118.45" y="246.5" font-size="6.4" text-anchor="middle" fill="#111" stroke="#111" >OA</text>
<path d="M40,162.6 V161.2 H98.3 V162.6" fill="none" stroke="#666" stroke-width="0.85"/>
<text x="69.9" y="161.5" font-size="5.5" text-anchor="middle" fill="#444" stroke="#444" >**</text>
<path d="M98.7,162.6 V161.2 H117.8 V162.6" fill="none" stroke="#666" stroke-width="0.85"/>
<text x="107.5" y="161.5" font-size="5.5" text-anchor="middle" fill="#444" stroke="#444" >**</text>
<text x="136" y="146.9" font-size="10" text-anchor="start" fill="#111" stroke="#111" >E</text>
<line x1="155.3" y1="146.3" x2="155.3" y2="240.6" stroke="#5e5e5e" stroke-width="1.1" />
<line x1="155.3" y1="240.6" x2="272" y2="240.6" stroke="#5e5e5e" stroke-width="1.1" />
<line x1="152.70000000000002" y1="155.2" x2="155.3" y2="155.2" stroke="#5e5e5e" stroke-width="0.9" />
<text x="152.3" y="157.29999999999998" font-size="6.4" text-anchor="end" fill="#111" stroke="#111" textLength="7.25" lengthAdjust="spacingAndGlyphs" >2.0</text>
<line x1="152.70000000000002" y1="197.89999999999998" x2="155.3" y2="197.89999999999998" stroke="#5e5e5e" stroke-width="0.9" />
<text x="152.3" y="199.99999999999997" font-size="6.4" text-anchor="end" fill="#111" stroke="#111" textLength="7.25" lengthAdjust="spacingAndGlyphs" >1.0</text>
<line x1="152.70000000000002" y1="240.6" x2="155.3" y2="240.6" stroke="#5e5e5e" stroke-width="0.9" />
<text x="152.3" y="242.7" font-size="6.4" text-anchor="end" fill="#111" stroke="#111" textLength="7.25" lengthAdjust="spacingAndGlyphs" >0.0</text>
<text transform="translate(142.81,193.75) rotate(-90)" x="0" y="0" font-size="7.0" text-anchor="middle" textLength="79.7" lengthAdjust="spacingAndGlyphs" fill="#111" stroke="#111">mRNA expression of Runx2</text>
<rect x="167.3" y="197.8" width="16.299999999999983" height="42.79999999999998" fill="url(#gNC)" />
<text x="175.95" y="246.5" font-size="6.4" text-anchor="middle" fill="#111" stroke="#111" >NC</text>
<rect x="186.9" y="202.8" width="16.0" height="37.79999999999998" fill="url(#gOD)" />
<line x1="194.5" y1="194.4" x2="194.5" y2="202.8" stroke="#555" stroke-width="1.0" />
<line x1="193.4" y1="194.4" x2="195.6" y2="194.4" stroke="#555" stroke-width="1.0" />
<text x="195.4" y="246.5" font-size="6.4" text-anchor="middle" fill="#111" stroke="#111" >OD</text>
<rect x="206.5" y="199.8" width="16.0" height="40.79999999999998" fill="url(#gC)" />
<line x1="214.5" y1="191.4" x2="214.5" y2="199.8" stroke="#555" stroke-width="1.0" />
<line x1="213.4" y1="191.4" x2="215.6" y2="191.4" stroke="#555" stroke-width="1.0" />
<text x="215.0" y="246.5" font-size="6.4" text-anchor="middle" fill="#111" stroke="#111" >C</text>
<rect x="226.3" y="215.5" width="15.799999999999983" height="25.099999999999994" fill="url(#gOI)" />
<line x1="234.5" y1="206.1" x2="234.5" y2="215.5" stroke="#555" stroke-width="1.0" />
<line x1="233.4" y1="206.1" x2="235.6" y2="206.1" stroke="#555" stroke-width="1.0" />
<text x="234.7" y="246.5" font-size="6.4" text-anchor="middle" fill="#111" stroke="#111" >OI</text>
<rect x="245.4" y="167.9" width="15.900000000000006" height="72.69999999999999" fill="url(#gOA)" />
<line x1="253.5" y1="152.9" x2="253.5" y2="167.9" stroke="#555" stroke-width="1.0" />
<line x1="252.4" y1="152.9" x2="254.6" y2="152.9" stroke="#555" stroke-width="1.0" />
<text x="253.85000000000002" y="246.5" font-size="6.4" text-anchor="middle" fill="#111" stroke="#111" >OA</text>
<path d="M176,157.5 V156.1 H233.6 V157.5" fill="none" stroke="#666" stroke-width="0.85"/>
<text x="203.9" y="156.4" font-size="5.5" text-anchor="middle" fill="#444" stroke="#444" >*</text>
<path d="M205.2,146.70000000000002 V145.3 H253.5 V146.70000000000002" fill="none" stroke="#666" stroke-width="0.85"/>
<text x="230.2" y="145.60000000000002" font-size="5.5" text-anchor="middle" fill="#444" stroke="#444" >**</text>
<text x="270.2" y="147.0" font-size="10" text-anchor="start" fill="#111" stroke="#111" >F</text>
<line x1="293" y1="146.6" x2="293" y2="240.6" stroke="#5e5e5e" stroke-width="1.1" />
<line x1="293" y1="240.6" x2="408.8" y2="240.6" stroke="#5e5e5e" stroke-width="1.1" />
<line x1="290.4" y1="155.4" x2="293" y2="155.4" stroke="#5e5e5e" stroke-width="0.9" />
<text x="290.0" y="157.5" font-size="6.4" text-anchor="end" fill="#111" stroke="#111" textLength="7.25" lengthAdjust="spacingAndGlyphs" >2.0</text>
<line x1="290.4" y1="198.0" x2="293" y2="198.0" stroke="#5e5e5e" stroke-width="0.9" />
<text x="290.0" y="200.1" font-size="6.4" text-anchor="end" fill="#111" stroke="#111" textLength="7.25" lengthAdjust="spacingAndGlyphs" >1.0</text>
<line x1="290.4" y1="240.6" x2="293" y2="240.6" stroke="#5e5e5e" stroke-width="0.9" />
<text x="290.0" y="242.7" font-size="6.4" text-anchor="end" fill="#111" stroke="#111" textLength="7.25" lengthAdjust="spacingAndGlyphs" >0.0</text>
<text transform="translate(280.61,193.50) rotate(-90)" x="0" y="0" font-size="7.0" text-anchor="middle" textLength="75.0" lengthAdjust="spacingAndGlyphs" fill="#111" stroke="#111">mRNA expression of OPG</text>
<rect x="305.2" y="197.9" width="16.0" height="42.69999999999999" fill="url(#gNC)" />
<text x="313.7" y="246.5" font-size="6.4" text-anchor="middle" fill="#111" stroke="#111" >NC</text>
<rect x="324.1" y="199.0" width="15.899999999999977" height="41.599999999999994" fill="url(#gOD)" />
<line x1="332.5" y1="188.4" x2="332.5" y2="199.0" stroke="#555" stroke-width="1.0" />
<line x1="331.4" y1="188.4" x2="333.6" y2="188.4" stroke="#555" stroke-width="1.0" />
<text x="332.55" y="246.5" font-size="6.4" text-anchor="middle" fill="#111" stroke="#111" >OD</text>
<rect x="344.0" y="178.1" width="15.800000000000011" height="62.5" fill="url(#gC)" />
<line x1="351.5" y1="164.4" x2="351.5" y2="178.1" stroke="#555" stroke-width="1.0" />
<line x1="350.4" y1="164.4" x2="352.6" y2="164.4" stroke="#555" stroke-width="1.0" />
<text x="352.4" y="246.5" font-size="6.4" text-anchor="middle" fill="#111" stroke="#111" >C</text>
<rect x="363.2" y="212.1" width="15.800000000000011" height="28.5" fill="url(#gOI)" />
<line x1="371.5" y1="206.1" x2="371.5" y2="212.1" stroke="#555" stroke-width="1.0" />
<line x1="370.4" y1="206.1" x2="372.6" y2="206.1" stroke="#555" stroke-width="1.0" />
<text x="371.6" y="246.5" font-size="6.4" text-anchor="middle" fill="#111" stroke="#111" >OI</text>
<rect x="382.7" y="178.9" width="16.19999999999999" height="61.69999999999999" fill="url(#gOA)" />
<line x1="390.5" y1="162.3" x2="390.5" y2="178.9" stroke="#555" stroke-width="1.0" />
<line x1="389.4" y1="162.3" x2="391.6" y2="162.3" stroke="#555" stroke-width="1.0" />
<text x="391.29999999999995" y="246.5" font-size="6.4" text-anchor="middle" fill="#111" stroke="#111" >OA</text>
<text x="404.6" y="145.9" font-size="10" text-anchor="start" fill="#111" stroke="#111" >G</text>
<line x1="429.7" y1="146.9" x2="429.7" y2="240.6" stroke="#5e5e5e" stroke-width="1.1" />
<line x1="429.7" y1="240.6" x2="547.7" y2="240.6" stroke="#5e5e5e" stroke-width="1.1" />
<line x1="427.09999999999997" y1="155.7" x2="429.7" y2="155.7" stroke="#5e5e5e" stroke-width="0.9" />
<text x="426.7" y="157.79999999999998" font-size="6.4" text-anchor="end" fill="#111" stroke="#111" textLength="7.25" lengthAdjust="spacingAndGlyphs" >2.0</text>
<line x1="427.09999999999997" y1="198.14999999999998" x2="429.7" y2="198.14999999999998" stroke="#5e5e5e" stroke-width="0.9" />
<text x="426.7" y="200.24999999999997" font-size="6.4" text-anchor="end" fill="#111" stroke="#111" textLength="7.25" lengthAdjust="spacingAndGlyphs" >1.0</text>
<line x1="427.09999999999997" y1="240.6" x2="429.7" y2="240.6" stroke="#5e5e5e" stroke-width="0.9" />
<text x="426.7" y="242.7" font-size="6.4" text-anchor="end" fill="#111" stroke="#111" textLength="7.25" lengthAdjust="spacingAndGlyphs" >0.0</text>
<text transform="translate(415.71,192.05) rotate(-90)" x="0" y="0" font-size="7.0" text-anchor="middle" textLength="89.9" lengthAdjust="spacingAndGlyphs" fill="#111" stroke="#111">mRNA expression of RANKL</text>
<rect x="441.7" y="198.3" width="16.30000000000001" height="42.29999999999998" fill="url(#gNC)" />
<text x="450.35" y="246.5" font-size="6.4" text-anchor="middle" fill="#111" stroke="#111" >NC</text>
<rect x="461.2" y="201.8" width="16.30000000000001" height="38.79999999999998" fill="url(#gOD)" />
<line x1="469.5" y1="196.1" x2="469.5" y2="201.8" stroke="#555" stroke-width="1.0" />
<line x1="468.4" y1="196.1" x2="470.6" y2="196.1" stroke="#555" stroke-width="1.0" />
<text x="469.85" y="246.5" font-size="6.4" text-anchor="middle" fill="#111" stroke="#111" >OD</text>
<rect x="480.7" y="188.2" width="16.0" height="52.400000000000006" fill="url(#gC)" />
<line x1="488.5" y1="183.2" x2="488.5" y2="188.2" stroke="#555" stroke-width="1.0" />
<line x1="487.4" y1="183.2" x2="489.6" y2="183.2" stroke="#555" stroke-width="1.0" />
<text x="489.2" y="246.5" font-size="6.4" text-anchor="middle" fill="#111" stroke="#111" >C</text>
<rect x="500.2" y="160.6" width="15.599999999999966" height="80.0" fill="url(#gOI)" />
<line x1="508.5" y1="156.1" x2="508.5" y2="160.6" stroke="#555" stroke-width="1.0" />
<line x1="507.4" y1="156.1" x2="509.6" y2="156.1" stroke="#555" stroke-width="1.0" />
<text x="508.5" y="246.5" font-size="6.4" text-anchor="middle" fill="#111" stroke="#111" >OI</text>
<rect x="520.0" y="206.2" width="16.0" height="34.400000000000006" fill="url(#gOA)" />
<line x1="528.5" y1="200.2" x2="528.5" y2="206.2" stroke="#555" stroke-width="1.0" />
<line x1="527.4" y1="200.2" x2="529.6" y2="200.2" stroke="#555" stroke-width="1.0" />
<text x="528.5" y="246.5" font-size="6.4" text-anchor="middle" fill="#111" stroke="#111" >OA</text>
<path d="M450.2,164.0 V162.6 H488.9 V164.0" fill="none" stroke="#666" stroke-width="0.85"/>
<path d="M469.5,151.9 V150.5 H508.2 V151.9" fill="none" stroke="#666" stroke-width="0.85"/>
<text x="489.4" y="150.8" font-size="5.5" text-anchor="middle" fill="#444" stroke="#444" >*</text>
<path d="M509,151.9 V150.5 H527.6 V151.9" fill="none" stroke="#666" stroke-width="0.85"/>
<text x="518.7" y="150.8" font-size="5.5" text-anchor="middle" fill="#444" stroke="#444" >*</text>
<text x="546.3" y="146.6" font-size="10" text-anchor="start" fill="#111" stroke="#111" >H</text>
<line x1="566" y1="146.6" x2="566" y2="240.6" stroke="#5e5e5e" stroke-width="1.1" />
<line x1="566" y1="240.6" x2="682" y2="240.6" stroke="#5e5e5e" stroke-width="1.1" />
<line x1="563.4" y1="146.6" x2="566" y2="146.6" stroke="#5e5e5e" stroke-width="0.9" />
<text x="563.0" y="148.7" font-size="6.4" text-anchor="end" fill="#111" stroke="#111" textLength="7.25" lengthAdjust="spacingAndGlyphs" >3.0</text>
<line x1="563.4" y1="177.9" x2="566" y2="177.9" stroke="#5e5e5e" stroke-width="0.9" />
<text x="563.0" y="180.0" font-size="6.4" text-anchor="end" fill="#111" stroke="#111" textLength="7.25" lengthAdjust="spacingAndGlyphs" >2.0</text>
<line x1="563.4" y1="209.3" x2="566" y2="209.3" stroke="#5e5e5e" stroke-width="0.9" />
<text x="563.0" y="211.4" font-size="6.4" text-anchor="end" fill="#111" stroke="#111" textLength="7.25" lengthAdjust="spacingAndGlyphs" >1.0</text>
<line x1="563.4" y1="240.6" x2="566" y2="240.6" stroke="#5e5e5e" stroke-width="0.9" />
<text x="563.0" y="242.7" font-size="6.4" text-anchor="end" fill="#111" stroke="#111" textLength="7.25" lengthAdjust="spacingAndGlyphs" >0.0</text>
<text transform="translate(553.81,193.65) rotate(-90)" x="0" y="0" font-size="7.0" text-anchor="middle" textLength="61.1" lengthAdjust="spacingAndGlyphs" fill="#111" stroke="#111">Ratio of RANKL/OPG</text>
<rect x="578.2" y="209.3" width="16.399999999999977" height="31.299999999999983" fill="url(#gNC)" />
<text x="586.9000000000001" y="246.5" font-size="6.4" text-anchor="middle" fill="#111" stroke="#111" >NC</text>
<rect x="597.7" y="211.5" width="16.399999999999977" height="29.099999999999994" fill="url(#gOD)" />
<line x1="605.5" y1="205.5" x2="605.5" y2="211.5" stroke="#555" stroke-width="1.0" />
<line x1="604.4" y1="205.5" x2="606.6" y2="205.5" stroke="#555" stroke-width="1.0" />
<text x="606.4000000000001" y="246.5" font-size="6.4" text-anchor="middle" fill="#111" stroke="#111" >OD</text>
<rect x="617.5" y="214.3" width="15.799999999999955" height="26.299999999999983" fill="url(#gC)" />
<line x1="625.5" y1="210.3" x2="625.5" y2="214.3" stroke="#555" stroke-width="1.0" />
<line x1="624.4" y1="210.3" x2="626.6" y2="210.3" stroke="#555" stroke-width="1.0" />
<text x="625.9" y="246.5" font-size="6.4" text-anchor="middle" fill="#111" stroke="#111" >C</text>
<rect x="636.6" y="168.1" width="16.299999999999955" height="72.5" fill="url(#gOI)" />
<line x1="644.5" y1="153.5" x2="644.5" y2="168.1" stroke="#555" stroke-width="1.0" />
<line x1="643.4" y1="153.5" x2="645.6" y2="153.5" stroke="#555" stroke-width="1.0" />
<text x="645.25" y="246.5" font-size="6.4" text-anchor="middle" fill="#111" stroke="#111" >OI</text>
<rect x="655.9" y="221.6" width="16.399999999999977" height="19.0" fill="url(#gOA)" />
<line x1="664.5" y1="217.8" x2="664.5" y2="221.6" stroke="#555" stroke-width="1.0" />
<line x1="663.4" y1="217.8" x2="665.6" y2="217.8" stroke="#555" stroke-width="1.0" />
<text x="664.5999999999999" y="246.5" font-size="6.4" text-anchor="middle" fill="#111" stroke="#111" >OA</text>
<path d="M610.2,143.3 V141.9 H654.5 V143.3" fill="none" stroke="#666" stroke-width="0.85"/>
<text x="632.6" y="142.20000000000002" font-size="5.5" text-anchor="middle" fill="#444" stroke="#444" >*</text>
<path d="M586.3,152.0 V150.6 H643.5 V152.0" fill="none" stroke="#666" stroke-width="0.85"/>
<text x="610.2" y="150.9" font-size="5.5" text-anchor="middle" fill="#444" stroke="#444" >**</text>
<path d="M645.2,152.0 V150.6 H664.5 V152.0" fill="none" stroke="#666" stroke-width="0.85"/>
<text x="654.5" y="150.9" font-size="5.5" text-anchor="middle" fill="#444" stroke="#444" >**</text>
<rect x="629.9" y="120.9" width="1.8" height="0.9" fill="#666" />
</svg>
</body></html>
